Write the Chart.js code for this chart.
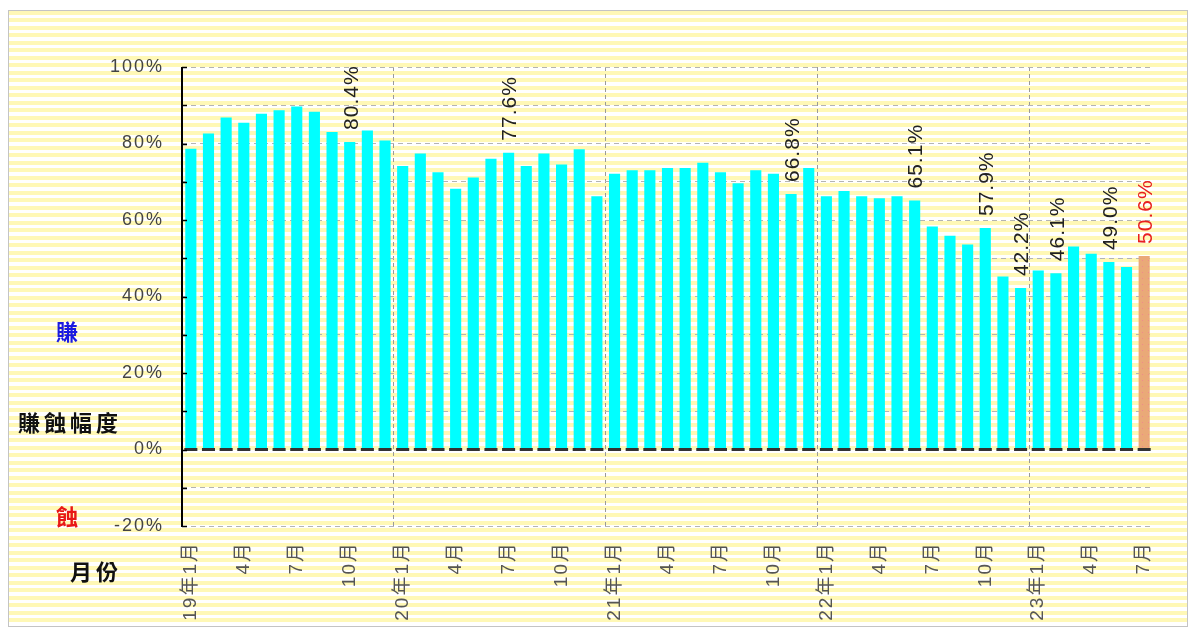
<!DOCTYPE html>
<html>
<head>
<meta charset="utf-8">
<script src="https://cdn.jsdelivr.net/npm/chart.js@4.4.0/dist/chart.umd.min.js"></script>
<style>
  body { margin: 0; background: #fff; }
  #wrap { position: relative; width: 1200px; height: 638px; overflow: hidden; }
  #frame {
    position: absolute; left: 8px; top: 10px; width: 1178px; height: 615px;
    border: 1px solid #c4c4c4;
    background: repeating-linear-gradient(to bottom, #fff8b6 0px, #fff8b6 4px, #ffffff 4px, #ffffff 7.5px);
  }
  canvas { position: absolute; left: 0; top: 0; }
  .side { position: absolute; font-family: 'Noto Sans CJK TC', sans-serif; font-weight: 700;
          font-size: 22px; line-height: 1; letter-spacing: 4px; color: #111; white-space: nowrap; }
</style>
</head>
<body>
<div id="wrap">
  <div id="frame"></div>
  <canvas id="myChart" width="1200" height="638"></canvas>
  <div class="side" style="left:56px;top:319px;color:#1a1ae0;">賺</div>
  <div class="side" style="left:18px;top:410px;">賺蝕幅度</div>
  <div class="side" style="left:56px;top:504px;color:#e81818;">蝕</div>
  <div class="side" style="left:70px;top:559px;">月份</div>
</div>
<script>
  // months 2019/1 .. 2023/7
  const months = [
    '19年1月', '2月', '3月', '4月', '5月', '6月', '7月', '8月', '9月', '10月', '11月', '12月',
    '20年1月', '2月', '3月', '4月', '5月', '6月', '7月', '8月', '9月', '10月', '11月', '12月',
    '21年1月', '2月', '3月', '4月', '5月', '6月', '7月', '8月', '9月', '10月', '11月', '12月',
    '22年1月', '2月', '3月', '4月', '5月', '6月', '7月', '8月', '9月', '10月', '11月', '12月',
    '23年1月', '2月', '3月', '4月', '5月', '6月', '7月'
  ];

  // 賺蝕幅度 (%)
  const values = [
    78.6, 82.6, 86.8, 85.4, 87.8, 88.7, 89.7, 88.3, 83.0, 80.4, 83.4, 80.8,
    74.1, 77.4, 72.5, 68.2, 71.1, 76.0, 77.6, 74.1, 77.4, 74.5, 78.5, 66.2,
    72.1, 73.0, 73.0, 73.6, 73.6, 75.0, 72.5, 69.6, 73.0, 72.1, 66.8, 73.6,
    66.2, 67.6, 66.2, 65.7, 66.2, 65.1, 58.3, 55.9, 53.6, 57.9, 45.2, 42.2,
    46.8, 46.1, 53.1, 51.2, 49.0, 47.7, 50.6
  ];

  // bars that carry a value label
  const labeledIdx = [9, 18, 34, 41, 45, 47, 49, 52, 54];

  const yTicks = [-20, 0, 20, 40, 60, 80, 100];

  const ctx = document.getElementById('myChart').getContext('2d');

  // last (latest) month: tan bar with small pink dots
  const pc = document.createElement('canvas');
  pc.width = 6; pc.height = 6;
  const p = pc.getContext('2d');
  p.fillStyle = '#eaa978';
  p.fillRect(0, 0, 6, 6);
  p.fillStyle = '#f08a8a';
  p.fillRect(2, 2, 1, 1);
  const lastPattern = ctx.createPattern(pc, 'repeat');

  const barColors = values.map((v, i) => i === values.length - 1 ? lastPattern : '#00ffff');

  const spacing = {
    id: 'spacing',
    beforeUpdate(chart) { chart.ctx.letterSpacing = '2px'; },
    beforeDraw(chart) { chart.ctx.letterSpacing = '2px'; }
  };

  const extras = {
    id: 'extras',
    afterDatasetsDraw(chart) {
      const { ctx, chartArea, scales: { x, y } } = chart;
      ctx.save();
      // zero line, dashes under each bar
      const w = x.getPixelForValue(1) - x.getPixelForValue(0);
      const y0 = y.getPixelForValue(0);
      ctx.strokeStyle = '#333';
      ctx.lineWidth = 3;
      ctx.setLineDash([w * 0.74, w * 0.26]);
      ctx.lineDashOffset = -(x.getPixelForValue(0) - w * 0.37 - chartArea.left);
      ctx.beginPath();
      ctx.moveTo(chartArea.left, y0);
      ctx.lineTo(chartArea.right, y0);
      ctx.stroke();
      ctx.setLineDash([]);

      // y axis line and inner ticks
      ctx.strokeStyle = '#000';
      ctx.lineWidth = 2;
      ctx.beginPath();
      ctx.moveTo(chartArea.left, chartArea.top);
      ctx.lineTo(chartArea.left, chartArea.bottom + 1);
      ctx.stroke();
      ctx.lineWidth = 1.5;
      for (let v = -20; v <= 100; v += 10) {
        const py = Math.round(y.getPixelForValue(v)) + 0.5;
        ctx.beginPath();
        ctx.moveTo(chartArea.left, py);
        ctx.lineTo(chartArea.left + 5, py);
        ctx.stroke();
      }

      // value labels, rotated
      ctx.font = '21px "Liberation Sans", Arial, sans-serif';
      ctx.letterSpacing = '1px';
      ctx.textAlign = 'left';
      ctx.textBaseline = 'middle';
      labeledIdx.forEach(i => {
        const px = x.getPixelForValue(i) + 2;
        const py = y.getPixelForValue(values[i]) - 12;
        ctx.save();
        ctx.translate(px, py);
        ctx.rotate(-Math.PI / 2);
        ctx.fillStyle = i === values.length - 1 ? '#e82020' : '#222';
        ctx.fillText(values[i].toFixed(1) + '%', 0, 0);
        ctx.restore();
      });
      ctx.restore();
    }
  };

  const myChart = new Chart(ctx, {
    type: 'bar',
    data: {
      labels: months,
      datasets: [{
        data: values,
        backgroundColor: barColors,
        borderWidth: 0,
        barPercentage: 0.63,
        categoryPercentage: 1
      }]
    },
    options: {
      responsive: false,
      animation: false,
      layout: { padding: { top: 67, right: 47, bottom: 0, left: 0 } },
      plugins: { legend: { display: false }, tooltip: { enabled: false } },
      scales: {
        x: {
          afterFit(scale) { scale.height = 112; },
          grid: {
            offset: true,
            drawTicks: false,
            color: c => (c.index > 0 && c.index % 12 === 0) ? '#9a9a9a' : 'rgba(0,0,0,0)',
            lineWidth: 1
          },
          border: { display: false, dash: [4, 3] },
          ticks: {
            autoSkip: false,
            minRotation: 90,
            maxRotation: 90,
            padding: 15,
            color: '#555',
            font: { size: 19, family: '"Liberation Sans", "Noto Sans CJK TC", sans-serif' },
            callback: (v, i) => i % 3 === 0 ? months[i] : ''
          }
        },
        y: {
          min: -20,
          max: 100,
          afterFit(scale) { scale.width = 182; },
          afterBuildTicks(scale) {
            scale.ticks = [];
            for (let v = -20; v <= 100; v += 10) scale.ticks.push({ value: v });
          },
          grid: {
            drawTicks: false,
            color: c => c.tick && c.tick.value === 0 ? 'rgba(0,0,0,0)' : '#b4b4b4',
            lineWidth: 1
          },
          border: { display: false, dash: [5, 4] },
          ticks: {
            padding: 18,
            color: '#444',
            font: { size: 18, family: '"Liberation Sans", Arial, sans-serif' },
            callback: v => yTicks.includes(v) ? v + '%' : ''
          }
        }
      }
    },
    plugins: [spacing, extras]
  });
</script>
</body>
</html>
